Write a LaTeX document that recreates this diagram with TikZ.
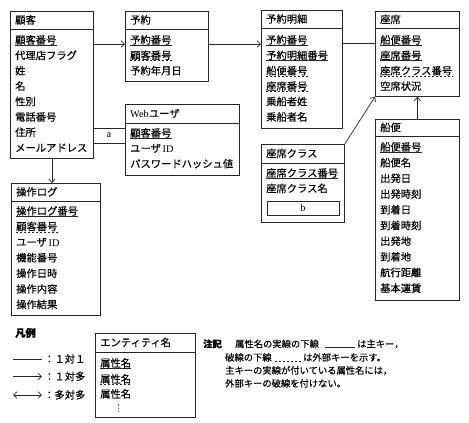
\documentclass[tikz,border=0pt]{standalone}
\usepackage{fontspec}
\setmainfont{Liberation Serif}
\newfontfamily\jp[FakeBold=0.3]{Noto Sans CJK JP}
\newfontfamily\lat{Liberation Serif}
\newfontfamily\djv{DejaVu Sans}
\usetikzlibrary{arrows.meta}
\newcommand{\jpf}{\jp\fontsize{10.3pt}{12pt}\selectfont}
\newcommand{\jpn}{\jp\fontsize{9.3pt}{11pt}\selectfont}
\tikzset{
 ink/.style={draw=black!85},
 ent/.style={ink, line width=0.8pt, inner sep=0pt, anchor=north west},
 sep/.style={ink, line width=0.8pt},
 txt/.style={anchor=base west, inner sep=0pt, font=\jpf, text=black},
 note/.style={txt, font=\jpn},
 pk/.style={ink, line width=0.7pt},
 fk/.style={ink, line width=0.7pt, dash pattern=on 2.4pt off 1.6pt},
 conn/.style={ink, line width=0.7pt},
 tip/.style={-{Straight Barb[length=3.5pt,width=6.5pt]}},
 both/.style={{Straight Barb[length=3.5pt,width=6.5pt]}-{Straight Barb[length=3.5pt,width=6.5pt]}},
 blank/.style={ink, line width=0.8pt, inner sep=0pt, text=black, font=\lat\fontsize{10.3pt}{12pt}\selectfont}
}
\newcommand{\entbox}[7]{%
  \node[ent, minimum width=#4pt, minimum height=#5pt] (#1) at (#2,#3) {};
  \draw[sep] ([yshift=-#6pt]#1.north west) -- ([yshift=-#6pt]#1.north east);
  \node[txt] (#1-title) at ({#2+5},{#3+#6/2+3.8}) {#7};
}
\newcommand{\attrN}[4]{\node[txt] (#1) at (#2,{#3+3.8}) {#4};}
\newcommand{\attrP}[4]{\attrN{#1}{#2}{#3}{#4}\draw[pk] ([yshift=-1.6pt]#1.base west) -- ([yshift=-1.6pt]#1.base east);}
\newcommand{\attrF}[4]{\attrN{#1}{#2}{#3}{#4}\draw[fk] ([yshift=-1.6pt]#1.base west) -- ([yshift=-1.6pt]#1.base east);}
\begin{document}
\begin{tikzpicture}[x=1pt,y=-1pt]
\useasboundingbox (0,0) rectangle (469,423);
% 顧客
\entbox{cust}{10}{11}{83}{147}{18}{顧客}
\attrP{c1}{15}{40}{顧客番号}
\attrN{c2}{15}{55.4}{代理店フラグ}
\attrN{c3}{15}{70.8}{姓}
\attrN{c4}{15}{86.2}{名}
\attrN{c5}{15}{101.6}{性別}
\attrN{c6}{15}{117}{電話番号}
\attrN{c7}{15}{132.4}{住所}
\attrN{c8}{15}{147.8}{メールアドレス}
% 予約
\entbox{rsv}{125}{11}{83}{70}{18}{予約}
\attrP{r1}{130}{40}{予約番号}
\attrF{r2}{130}{55.4}{顧客番号}
\attrN{r3}{130}{70.8}{予約年月日}
% Webユーザ
\entbox{web}{125}{104}{114}{71}{19}{{\lat Web}ユーザ}
\attrP{w1}{130}{133}{顧客番号}
\attrN{w2}{130}{148.4}{ユーザ\,{\lat ID}}
\attrN{w3}{130}{163.8}{パスワードハッシュ値}
% 操作ログ
\entbox{log}{11}{183}{89}{132}{18}{操作ログ}
\attrP{g1}{16}{211}{操作ログ番号}
\attrF{g2}{16}{226.6}{顧客番号}
\attrN{g3}{16}{242.2}{ユーザ\,{\lat ID}}
\attrN{g4}{16}{257.8}{機能番号}
\attrN{g5}{16}{273.4}{操作日時}
\attrN{g6}{16}{289}{操作内容}
\attrN{g7}{16}{304.6}{操作結果}
% 予約明細
\entbox{dtl}{261}{10}{81}{118}{18}{予約明細}
\attrP{d1}{266}{40}{予約番号}
\attrP{d2}{266}{55.4}{予約明細番号}
\attrF{d3}{266}{70.8}{船便番号}
\attrF{d4}{266}{86.2}{座席番号}
\attrN{d5}{266}{101.6}{乗船者姓}
\attrN{d6}{266}{117}{乗船者名}
% 座席
\entbox{seat}{375}{11}{84}{85}{17}{座席}
\attrP{s1}{380}{40}{船便番号}
\attrP{s2}{380}{55.4}{座席番号}
\attrF{s3}{380}{70.8}{座席クラス番号}
\attrN{s4}{380}{86.2}{空席状況}
% 座席クラス
\entbox{cls}{261}{144}{83}{78}{19}{座席クラス}
\attrP{k1}{266}{173}{座席クラス番号}
\attrN{k2}{266}{188.5}{座席クラス名}
\node[blank, minimum width=72pt, minimum height=14pt] (bbox) at (303,208) {b};
% 船便
\entbox{ship}{375}{119}{84}{181}{17}{船便}
\attrP{p1}{380}{147}{船便番号}
\attrN{p2}{380}{162.7}{船便名}
\attrN{p3}{380}{178.4}{出発日}
\attrN{p4}{380}{194.1}{出発時刻}
\attrN{p5}{380}{209.8}{到着日}
\attrN{p6}{380}{225.5}{到着時刻}
\attrN{p7}{380}{241.2}{出発地}
\attrN{p8}{380}{256.9}{到着地}
\attrN{p9}{380}{272.6}{航行距離}
\attrN{p10}{380}{288.3}{基本運賃}
% connectors
\coordinate (e1) at ([yshift=-33pt]cust.north east);
\draw[conn,tip] (e1) -- (e1 -| rsv.west);
\coordinate (e2) at ([yshift=-33pt]rsv.north east);
\draw[conn,tip] (e2) -- (e2 -| dtl.west);
\coordinate (e3) at ([yshift=-33pt]dtl.north east);
\draw[conn] (e3) -- (e3 -| seat.west);
\draw[conn,tip] (cls.north east) -- (seat.south west);
\draw[conn,tip] (ship.north) -- (ship.north |- seat.south);
\draw[conn,tip] (cust.south) -- (cust.south |- log.north);
\node[blank, minimum width=32pt, minimum height=15pt] (abox) at (109,135.5) {a};
% legend
\node[txt, font=\jpf\bfseries] (hanrei) at (15,{333+3.8}) {凡例};
\coordinate (la1) at (13,359); \coordinate (lb1) at (42,359);
\coordinate (la2) at (13,376.5); \coordinate (lb2) at (42,376.5);
\coordinate (la3) at (13,395); \coordinate (lb3) at (42,395);
\draw[conn] (la1) -- (lb1);
\draw[conn,tip] (la2) -- (lb2);
\draw[conn,both] (la3) -- (lb3);
\node[txt] (lt1) at (44,{359+3.8}) {：１対１};
\node[txt] (lt2) at (44,{376.5+3.8}) {：１対多};
\node[txt] (lt3) at (44,{395+3.8}) {：多対多};
\entbox{leg}{95}{333}{100}{84}{19}{エンティティ名}
\attrP{q1}{100}{363}{属性名}
\attrF{q2}{100}{379}{属性名}
\attrN{q3}{100}{394}{属性名}
\node[txt, font=\djv\fontsize{9pt}{10pt}\selectfont] (q4) at (114,{408+3.5}) {⋮};
% note
\node[note, font=\jpn\bfseries] (n0) at (203,{344+3.4}) {注記};
\node[note] (n1a) at (235,{344+3.4}) {属性名の実線の下線};
\coordinate (u1a) at (325,347.8); \coordinate (u1b) at (355,347.8);
\draw[pk] (u1a) -- (u1b);
\node[note] (n1b) at (357,{344+3.4}) {は主キー，};
\node[note] (n2a) at (225,{357.5+3.4}) {破線の下線};
\coordinate (u2a) at (275,361.3); \coordinate (u2b) at (302,361.3);
\draw[fk] (u2a) -- (u2b);
\node[note] (n2b) at (303,{357.5+3.4}) {は外部キーを示す。};
\node[note] (n3) at (225,{370.5+3.4}) {主キーの実線が付いている属性名には，};
\node[note] (n4) at (225,{383.5+3.4}) {外部キーの破線を付けない。};
\end{tikzpicture}
\end{document}
